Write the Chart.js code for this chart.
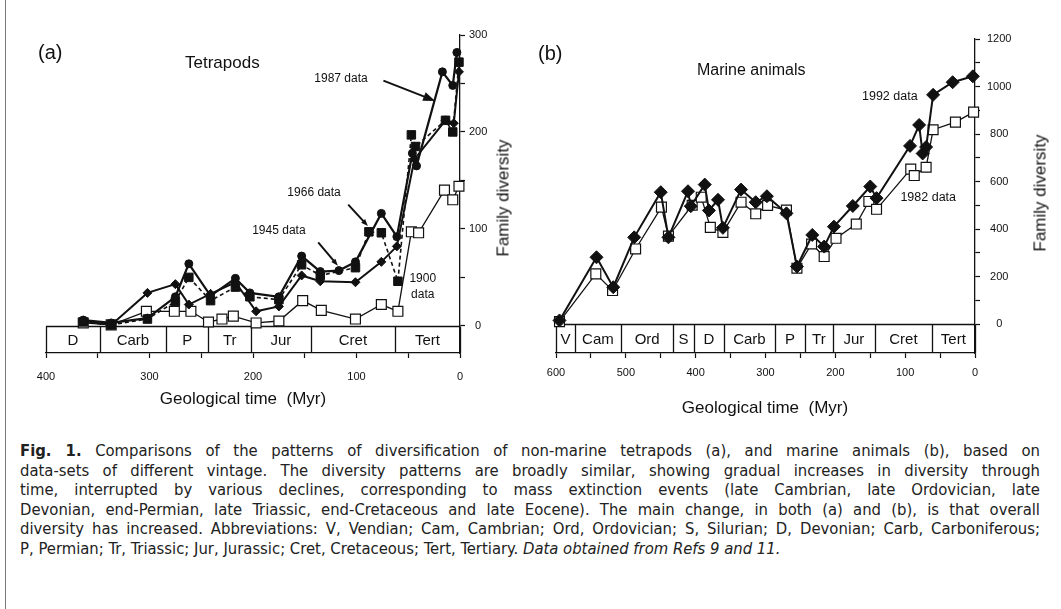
<!DOCTYPE html>
<html>
<head>
<meta charset="utf-8">
<script src="https://cdn.jsdelivr.net/npm/chart.js@4.4.1/dist/chart.umd.min.js"></script>
<style>
  html, body { margin: 0; padding: 0; background: #fff; }
  #page { position: relative; width: 1061px; height: 609px; overflow: hidden; background: #fff;
          font-family: "Liberation Sans", Arial, sans-serif; color: #111; }
  #page canvas { position: absolute; top: 0; }
  .frame { position: absolute; left: 5px; top: 0; width: 1px; height: 609px; background: #777; }
  .lbl { position: absolute; white-space: nowrap; line-height: 1; }
  .ctr { transform: translate(-50%, -50%); }
  .ytitle { position: absolute; white-space: nowrap; line-height: 1; font-size: 17px;
            transform: translate(-50%, -50%) rotate(-90deg); }
  .cap { position: absolute; left: 20px; top: 441px; width: 1020px;
         font-family: "DejaVu Sans Condensed", "Liberation Sans", sans-serif; font-stretch: condensed;
         font-size: 16.5px; line-height: 19.5px; color: #222; }
  .cap div { white-space: nowrap; }
</style>
</head>
<body>
<div id="page">
  <div class="frame"></div>
  <canvas id="chartA" width="520" height="420" style="left:0"></canvas>
  <canvas id="chartB" width="541" height="420" style="left:520px"></canvas>

  <div class="lbl" style="left:38px;top:42px;font-size:20px">(a)</div>
  <div class="lbl" style="left:185px;top:54px;font-size:17px">Tetrapods</div>
  <div class="ytitle" style="left:503px;top:198px">Family diversity</div>
  <div class="lbl ctr" style="left:243px;top:398px;font-size:17px">Geological time&nbsp; (Myr)</div>

  <div class="lbl" style="left:538px;top:43px;font-size:20px">(b)</div>
  <div class="lbl" style="left:697px;top:62px;font-size:16px">Marine animals</div>
  <div class="ytitle" style="left:1040px;top:193px">Family diversity</div>
  <div class="lbl ctr" style="left:765px;top:407px;font-size:17px">Geological time&nbsp; (Myr)</div>

  <div class="cap">
    <div class="j"><span><b>Fig. 1.</b> Comparisons of the patterns of diversification of non-marine tetrapods (a), and marine animals (b), based on</span></div>
    <div class="j"><span>data-sets of different vintage. The diversity patterns are broadly similar, showing gradual increases in diversity through</span></div>
    <div class="j"><span>time, interrupted by various declines, corresponding to mass extinction events (late Cambrian, late Ordovician, late</span></div>
    <div class="j"><span>Devonian, end-Permian, late Triassic, end-Cretaceous and late Eocene). The main change, in both (a) and (b), is that overall</span></div>
    <div class="j"><span>diversity has increased. Abbreviations: V, Vendian; Cam, Cambrian; Ord, Ordovician; S, Silurian; D, Devonian; Carb, Carboniferous;</span></div>
    <div><span>P, Permian; Tr, Triassic; Jur, Jurassic; Cret, Cretaceous; Tert, Tertiary. <i>Data obtained from Refs 9 and 11.</i></span></div>
  </div>
</div>

<script>
// ---- (a) non-marine tetrapods: age (Myr) and family counts ----
const tetraAge1987 = [364, 337, 302, 275, 262, 241, 217, 203, 175, 153, 135, 117, 101, 76, 61, 46, 42, 17, 7, 3];
const tetraFam1987 = [6, 3, 8, 30, 64, 31, 49, 34, 30, 72, 56, 57, 66, 116, 92, 178, 165, 262, 248, 282];

const tetraAge1966 = [364, 337, 302, 275, 262, 241, 217, 203, 175, 153, 135, 101, 88, 76, 60, 47, 43, 14, 7, 1];
const tetraFam1966 = [4, 1, 7, 25, 50, 26, 40, 30, 27, 63, 52, 60, 97, 96, 46, 197, 185, 212, 200, 272];

const tetraAge1945 = [364, 337, 302, 275, 262, 241, 217, 197, 175, 153, 135, 101, 76, 61, 44, 14, 6, 1];
const tetraFam1945 = [5, 1, 34, 43, 22, 33, 45, 15, 20, 52, 46, 45, 66, 82, 172, 212, 209, 262];

const tetraAge1900 = [364, 337, 303, 276, 260, 243, 230, 219, 197, 175, 152, 134, 101, 76, 60, 47, 40, 15, 7, 1];
const tetraFam1900 = [3, 1, 15, 15, 15, 4, 7, 10, 3, 5, 26, 16, 7, 22, 15, 97, 96, 140, 130, 144];

// ---- (b) marine animals ----
const marineAge1992 = [595, 542, 518, 488, 450, 439, 411, 407, 387, 381, 368, 361, 335, 314, 298, 270, 255, 233, 216, 202, 175, 150, 141, 93, 80, 75, 70, 60, 32, 3];
const marineFam1992 = [15, 281, 155, 365, 555, 365, 559, 496, 587, 478, 523, 405, 566, 513, 538, 466, 242, 375, 326, 410, 497, 579, 530, 750, 838, 718, 745, 965, 1018, 1043];

const marineAge1982 = [595, 543, 519, 486, 449, 439, 405, 392, 379, 361, 335, 314, 297, 270, 255, 234, 216, 199, 170, 152, 141, 92, 87, 70, 60, 28, 2];
const marineFam1982 = [10, 211, 141, 316, 492, 370, 500, 534, 407, 386, 513, 464, 499, 480, 235, 337, 284, 361, 421, 516, 483, 652, 625, 660, 818, 850, 892];

// ---- geological periods (boundaries in Myr) ----
const periodsA = ['D', 'Carb', 'P', 'Tr', 'Jur', 'Cret', 'Tert'];
const edgesA = [400, 348, 284, 243, 202, 144, 63, 0];
const periodsB = ['V', 'Cam', 'Ord', 'S', 'D', 'Carb', 'P', 'Tr', 'Jur', 'Cret', 'Tert'];
const edgesB = [600, 573, 507, 432, 403, 359, 287, 243, 204, 143, 62, 0];

// ---- tick values ----
const xTicksA = [0, 50, 100, 150, 200, 250, 300, 350, 400];
const yTicksA = [0, 50, 100, 150, 200, 250, 300];
const xTicksB = [0, 50, 100, 150, 200, 250, 300, 350, 400, 450, 500, 550, 600];
const yTicksB = [0, 100, 200, 300, 400, 500, 600, 700, 800, 900, 1000, 1100, 1200];

// ---- data labels with pointer lines (age, families) ----
const notesA = [
  { text: ['1987 data'], at: [115, 255], from: [74, 253], to: [24, 232], head: 12 },
  { text: ['1966 data'], at: [141, 137], from: [108, 125], to: [89, 103], head: 7 },
  { text: ['1945 data'], at: [175, 98], from: [137, 86], to: [118, 62], head: 7 },
  { text: ['1900', 'data'], at: [36, 49] }
];
const notesB = [
  { text: ['1992 data'], at: [122, 956] },
  { text: ['1982 data'], at: [67, 531] }
];

const INK = '#111';
const FONT = '"Liberation Sans", Arial, sans-serif';
Chart.defaults.font.family = FONT;
Chart.defaults.color = INK;

function pts(ages, fams) {
  return ages.map((a, i) => ({ x: a, y: fams[i] }));
}

function periodBar(names, edges) {
  return {
    id: 'periodBar',
    beforeDatasetsDraw(chart) {
      const { ctx, scales: { x, y } } = chart;
      const top = Math.round(y.getPixelForValue(0)) + 0.5;
      const bot = y.getPixelForValue(y.min);
      ctx.save();
      ctx.strokeStyle = INK;
      ctx.lineWidth = 1.3;
      ctx.beginPath();
      ctx.moveTo(x.getPixelForValue(edges[0]), top);
      ctx.lineTo(x.getPixelForValue(0), top);
      edges.forEach(e => {
        const px = Math.round(x.getPixelForValue(e)) + 0.5;
        ctx.moveTo(px, top);
        ctx.lineTo(px, bot);
      });
      ctx.stroke();
      ctx.fillStyle = INK;
      ctx.font = '15px ' + FONT;
      ctx.textAlign = 'center';
      ctx.textBaseline = 'middle';
      names.forEach((n, i) => {
        const cx = (x.getPixelForValue(edges[i]) + x.getPixelForValue(edges[i + 1])) / 2;
        ctx.fillText(n, cx, (top + bot) / 2 + 1);
      });
      ctx.restore();
    }
  };
}

function noteLayer(notes, size) {
  return {
    id: 'notes',
    afterDatasetsDraw(chart) {
      const { ctx, scales: { x, y } } = chart;
      ctx.save();
      ctx.fillStyle = INK;
      ctx.strokeStyle = INK;
      ctx.font = size + 'px ' + FONT;
      ctx.textAlign = 'center';
      ctx.textBaseline = 'middle';
      notes.forEach(n => {
        const cx = x.getPixelForValue(n.at[0]);
        const cy = y.getPixelForValue(n.at[1]);
        n.text.forEach((line, i) => ctx.fillText(line, cx, cy + i * (size + 4)));
        if (!n.from) return;
        const x0 = x.getPixelForValue(n.from[0]), y0 = y.getPixelForValue(n.from[1]);
        const x1 = x.getPixelForValue(n.to[0]), y1 = y.getPixelForValue(n.to[1]);
        const ang = Math.atan2(y1 - y0, x1 - x0);
        const h = n.head;
        ctx.lineWidth = 2;
        ctx.beginPath();
        ctx.moveTo(x0, y0);
        ctx.lineTo(x1 - Math.cos(ang) * h * 0.8, y1 - Math.sin(ang) * h * 0.8);
        ctx.stroke();
        ctx.beginPath();
        ctx.moveTo(x1, y1);
        ctx.lineTo(x1 - h * Math.cos(ang) + h * 0.38 * Math.sin(ang), y1 - h * Math.sin(ang) - h * 0.38 * Math.cos(ang));
        ctx.lineTo(x1 - h * Math.cos(ang) - h * 0.38 * Math.sin(ang), y1 - h * Math.sin(ang) + h * 0.38 * Math.cos(ang));
        ctx.closePath();
        ctx.fill();
      });
      ctx.restore();
    }
  };
}

function axes(cfg) {
  return {
    x: {
      type: 'linear', reverse: true, min: 0, max: cfg.xMax,
      afterBuildTicks: s => { s.ticks = cfg.xTicks.map(v => ({ value: v })); },
      afterFit: s => { s.height = cfg.xHeight; },
      ticks: {
        autoSkip: false, maxRotation: 0, padding: cfg.xPad,
        font: { size: 11 }, color: INK,
        callback: v => (v % 100 === 0 ? v : '')
      },
      grid: { drawOnChartArea: false, tickLength: 5, tickColor: INK, tickWidth: 1.2 },
      border: { color: INK, width: 1.3 }
    },
    y: {
      type: 'linear', position: 'right', min: cfg.yMin, max: cfg.yMax,
      afterBuildTicks: s => { s.ticks = cfg.yTicks.map(v => ({ value: v })); },
      afterFit: s => { s.width = cfg.yWidth; },
      ticks: {
        crossAlign: 'center', padding: cfg.yPad,
        font: { size: 11 }, color: INK,
        callback: v => (v % cfg.yLabelStep === 0 ? v : '')
      },
      grid: { drawOnChartArea: false, tickLength: 5, tickColor: INK, tickWidth: 1.2 },
      border: { color: INK, width: 1.3 }
    }
  };
}

const common = {
  responsive: false,
  animation: false,
  events: [],
  plugins: { legend: { display: false }, tooltip: { enabled: false } }
};

// (a) Tetrapods
new Chart(document.getElementById('chartA'), {
  type: 'line',
  data: {
    datasets: [
      { label: '1987 data', data: pts(tetraAge1987, tetraFam1987), borderColor: INK, backgroundColor: INK,
        borderWidth: 2.2, pointStyle: 'circle', pointRadius: 4, pointBorderWidth: 1, clip: false },
      { label: '1945 data', data: pts(tetraAge1945, tetraFam1945), borderColor: INK, backgroundColor: INK,
        borderWidth: 2, pointStyle: 'rectRot', pointRadius: 4.5, pointBorderWidth: 1, clip: false },
      { label: '1966 data', data: pts(tetraAge1966, tetraFam1966), borderColor: INK, backgroundColor: INK,
        borderWidth: 1.6, borderDash: [4, 3], pointStyle: 'rect', pointRadius: 6, pointBorderWidth: 1, clip: false },
      { label: '1900 data', data: pts(tetraAge1900, tetraFam1900), borderColor: INK, backgroundColor: '#fff',
        borderWidth: 1.3, pointStyle: 'rect', pointRadius: 7, pointBorderWidth: 1.2, clip: false }
    ]
  },
  options: Object.assign({}, common, {
    layout: { padding: { left: 46, top: 35, right: 0, bottom: 0 } },
    scales: axes({ xMax: 400, xTicks: xTicksA, xHeight: 67, xPad: 12,
                   yMin: -28, yMax: 300, yTicks: yTicksA, yWidth: 60, yPad: 4, yLabelStep: 100 })
  }),
  plugins: [periodBar(periodsA, edgesA), noteLayer(notesA, 12)]
});

// (b) Marine animals
new Chart(document.getElementById('chartB'), {
  type: 'line',
  data: {
    datasets: [
      { label: '1992 data', data: pts(marineAge1992, marineFam1992), borderColor: INK, backgroundColor: INK,
        borderWidth: 2, pointStyle: 'rectRot', pointRadius: 6.5, pointBorderWidth: 1, clip: false },
      { label: '1982 data', data: pts(marineAge1982, marineFam1982), borderColor: INK, backgroundColor: '#fff',
        borderWidth: 1.3, pointStyle: 'rect', pointRadius: 7, pointBorderWidth: 1.2, clip: false }
    ]
  },
  options: Object.assign({}, common, {
    layout: { padding: { left: 36, top: 39, right: 0, bottom: 0 } },
    scales: axes({ xMax: 600, xTicks: xTicksB, xHeight: 67, xPad: 8,
                   yMin: -122, yMax: 1200, yTicks: yTicksB, yWidth: 86, yPad: 7, yLabelStep: 200 })
  }),
  plugins: [periodBar(periodsB, edgesB), noteLayer(notesB, 12.5)]
});

// stretch each full caption line to the column width
document.querySelectorAll('.cap .j').forEach(d => {
  const span = d.firstElementChild;
  const w = span.getBoundingClientRect().width;
  const gaps = (span.textContent.match(/ /g) || []).length;
  if (gaps) span.style.wordSpacing = ((1020 - w) / gaps) + 'px';
});
</script>
</body>
</html>
